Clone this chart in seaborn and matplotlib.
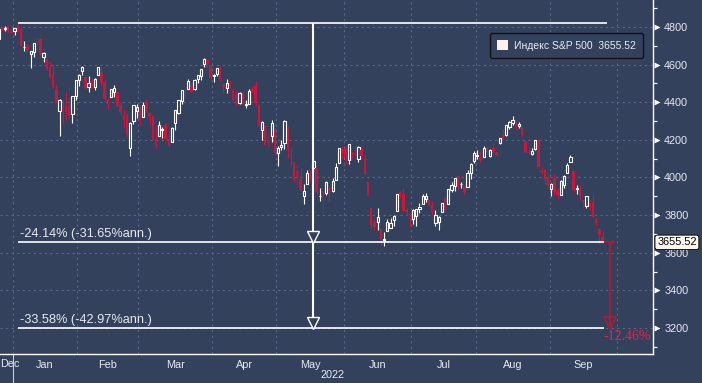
import numpy as np
import matplotlib
matplotlib.use('Agg')
import matplotlib.pyplot as plt
import matplotlib.transforms as mtransforms
from matplotlib.patches import Patch
import seaborn as sns

# months shown on the axis and trading sessions in each (Dec = last week only)
months = ['Dec', 'Jan', 'Feb', 'Mar', 'Apr', 'May', 'Jun', 'Jul', 'Aug', 'Sep']
month_sessions = [5, 20, 19, 23, 20, 21, 21, 20, 23, 21]

# daily OHLC, S&P 500, 27 Dec 2021 .. 26 Sep 2022
opens = [
    4734, 4795, 4789, 4794, 4775,
    4778, 4805, 4788, 4693, 4698, 4655, 4669, 4729, 4734, 4638, 4632, 4588, 4547, 4471, 4356, 4367, 4381, 4381, 4336, 4432,
    4520, 4566, 4535, 4483, 4506, 4480, 4547, 4553, 4506, 4413, 4429, 4456, 4456, 4385, 4333, 4325, 4156, 4298, 4354,
    4363, 4323, 4401, 4342, 4327, 4203, 4223, 4253, 4280, 4203, 4189, 4288, 4345, 4407, 4462, 4469, 4493, 4470, 4523, 4541, 4603, 4624, 4599,
    4540, 4548, 4572, 4494, 4475, 4494, 4463, 4438, 4394, 4449, 4386, 4391, 4472, 4489, 4386, 4255, 4278, 4187, 4223, 4254,
    4131, 4160, 4181, 4270, 4128, 4081, 4035, 3990, 3904, 3964, 4013, 4052, 4052, 3899, 3928, 3919, 3943, 3930, 3985, 4077, 4151,
    4150, 4095, 4138, 4135, 4096, 4147, 4102, 3974, 3838, 3764, 3764, 3728, 3666, 3715, 3734, 3775, 3822, 3921, 3913, 3825, 3786,
    3781, 3793, 3832, 3859, 3888, 3881, 3852, 3757, 3764, 3818, 3884, 3861, 3935, 3955, 4007, 3966, 3953, 3951, 4026, 4087,
    4112, 4104, 4108, 4155, 4116, 4156, 4133, 4181, 4227, 4225, 4269, 4290, 4280, 4273, 4266, 4195, 4133, 4127, 4153, 4199, 4035, 4041, 4001,
    3937, 3995, 3931, 3909, 3960, 4023, 4084, 4037, 3941, 3932, 3881, 3850, 3875, 3871, 3782, 3727, 3683,
]
highs = [
    4791, 4807, 4804, 4809, 4787,
    4797, 4819, 4798, 4725, 4708, 4673, 4714, 4749, 4744, 4665, 4632, 4612, 4602, 4495, 4417, 4411, 4453, 4429, 4433, 4517,
    4550, 4595, 4543, 4540, 4522, 4531, 4590, 4589, 4526, 4426, 4473, 4490, 4456, 4395, 4362, 4342, 4295, 4385, 4389,
    4378, 4401, 4417, 4342, 4327, 4277, 4299, 4268, 4291, 4248, 4271, 4359, 4413, 4465, 4482, 4522, 4501, 4521, 4546, 4576, 4637, 4628, 4603,
    4549, 4584, 4593, 4504, 4521, 4520, 4464, 4471, 4454, 4460, 4410, 4471, 4488, 4513, 4386, 4299, 4278, 4241, 4308, 4270,
    4170, 4200, 4308, 4270, 4158, 4081, 4069, 4049, 3965, 4039, 4046, 4091, 4052, 3946, 3943, 3982, 3956, 3999, 4075, 4158, 4168,
    4167, 4178, 4143, 4169, 4165, 4160, 4119, 3974, 3838, 3778, 3838, 3728, 3708, 3780, 3786, 3803, 3914, 3928, 3946, 3837, 3819,
    3830, 3832, 3865, 3911, 3919, 3881, 3873, 3829, 3796, 3864, 3902, 3940, 3974, 3999, 4012, 3975, 3953, 4040, 4079, 4140,
    4145, 4140, 4168, 4161, 4152, 4187, 4137, 4211, 4258, 4280, 4302, 4325, 4302, 4293, 4266, 4195, 4160, 4157, 4201, 4203, 4063, 4045, 4015,
    3970, 4018, 3943, 3988, 4011, 4077, 4119, 4037, 3962, 3959, 3881, 3900, 3876, 3907, 3791, 3727, 3716,
]
lows = [
    4734, 4780, 4778, 4775, 4766,
    4758, 4774, 4699, 4671, 4663, 4582, 4638, 4707, 4650, 4615, 4569, 4530, 4478, 4395, 4223, 4287, 4305, 4310, 4292, 4414,
    4484, 4544, 4470, 4452, 4471, 4465, 4547, 4484, 4401, 4365, 4429, 4430, 4374, 4327, 4267, 4222, 4115, 4287, 4315,
    4280, 4323, 4346, 4285, 4200, 4158, 4223, 4210, 4200, 4162, 4188, 4252, 4336, 4391, 4424, 4469, 4456, 4465, 4501, 4518, 4590, 4581, 4530,
    4508, 4539, 4514, 4450, 4450, 4475, 4408, 4381, 4393, 4391, 4370, 4391, 4449, 4384, 4268, 4201, 4175, 4163, 4189, 4124,
    4063, 4147, 4149, 4106, 4068, 3975, 3958, 3929, 3859, 3964, 3984, 4034, 3912, 3877, 3810, 3909, 3875, 3925, 3985, 4077, 4105,
    4074, 4074, 4099, 4109, 4080, 4107, 4017, 3900, 3734, 3722, 3722, 3640, 3637, 3715, 3729, 3744, 3822, 3890, 3820, 3799, 3739,
    3752, 3742, 3813, 3859, 3869, 3847, 3802, 3741, 3722, 3817, 3819, 3861, 3922, 3928, 3939, 3943, 3911, 3951, 3993, 4079,
    4096, 4080, 4108, 4135, 4107, 4129, 4112, 4177, 4201, 4220, 4257, 4278, 4253, 4262, 4219, 4130, 4124, 4120, 4148, 4058, 4017, 3965, 3955,
    3904, 3906, 3887, 3906, 3945, 4023, 4084, 3922, 3912, 3888, 3837, 3839, 3828, 3789, 3749, 3647, 3645,
]
closes = [
    4791, 4786, 4793, 4779, 4766,
    4797, 4794, 4701, 4696, 4677, 4670, 4713, 4726, 4659, 4663, 4577, 4533, 4483, 4398, 4410, 4356, 4350, 4327, 4432, 4516,
    4547, 4589, 4477, 4501, 4484, 4522, 4587, 4504, 4419, 4402, 4471, 4475, 4380, 4349, 4305, 4226, 4289, 4385, 4374,
    4306, 4387, 4363, 4329, 4201, 4171, 4278, 4260, 4204, 4173, 4262, 4358, 4412, 4463, 4461, 4512, 4456, 4520, 4543, 4576, 4632, 4602, 4530,
    4546, 4583, 4525, 4481, 4500, 4488, 4413, 4397, 4447, 4393, 4392, 4462, 4459, 4394, 4272, 4296, 4175, 4184, 4288, 4132,
    4155, 4175, 4300, 4147, 4123, 3991, 4001, 3935, 3930, 4024, 4008, 4089, 3924, 3901, 3901, 3974, 3941, 3979, 4058, 4158, 4132,
    4101, 4177, 4109, 4121, 4161, 4116, 4018, 3901, 3750, 3735, 3790, 3667, 3675, 3765, 3760, 3796, 3912, 3900, 3822, 3819, 3785,
    3825, 3831, 3845, 3903, 3899, 3854, 3819, 3802, 3790, 3863, 3831, 3937, 3960, 3999, 3962, 3967, 3921, 4024, 4072, 4130,
    4119, 4091, 4155, 4152, 4145, 4140, 4122, 4210, 4207, 4280, 4297, 4305, 4274, 4284, 4228, 4138, 4129, 4141, 4199, 4058, 4031, 3986, 3955,
    3967, 3924, 3908, 3980, 4006, 4067, 4110, 3933, 3946, 3901, 3873, 3900, 3856, 3790, 3758, 3693, 3655.52,
]

price_ticks = [3200, 3400, 3600, 3800, 4000, 4200, 4400, 4600, 4800]
minor_ticks = [3100, 3300, 3500, 3700, 3900, 4100, 4300, 4500, 4700, 4900]

# drawdown study
last_price = 3655.52
peak_price = 4818.62
target_price = 3200.0
peak_day = 6
arrow_day = 98
dd_now_label = '-24.14% (-31.65%ann.)'
dd_target_label = '-33.58% (-42.97%ann.)'
remaining_label = '-12.46%'
legend_label = 'Индекс S&P 500  3655.52'
year_label = '2022'

bg = '#34415c'
grid_c = '#56678a'
red = '#c8163c'
red_dim = '#8a2a4a'
red_line = '#b41a36'
red_text = '#ee1f3f'
txt = '#e6eaf2'

sns.set_theme(style='dark', rc={'axes.facecolor': bg, 'figure.facecolor': bg})
plt.rcParams['font.family'] = ['Liberation Sans', 'DejaVu Sans']

fig = plt.figure(figsize=(7.02, 3.83), dpi=100)
ax = fig.add_axes([0, 29 / 383, 653 / 702, 354 / 383])
ax.set_facecolor(bg)

o = np.array(opens, float)
h = np.array(highs, float)
l = np.array(lows, float)
c = np.array(closes, float)
x = np.arange(len(c))
up = c >= o
prev = np.r_[c[0], c[:-1]]
down_col = np.where(c < prev, red, red_dim)

# candles: hollow white for up days, filled red for down days
ax.vlines(x[up], l[up], h[up], color='white', lw=0.8, zorder=2)
ax.vlines(x[~up], l[~up], h[~up], color=down_col[~up], lw=0.8, zorder=2)
ax.bar(x[up], c[up] - o[up], bottom=o[up], width=0.7, color=bg,
       edgecolor='white', linewidth=0.8, zorder=3)
ax.bar(x[~up], o[~up] - c[~up], bottom=c[~up], width=0.75,
       color=down_col[~up], linewidth=0, zorder=3)

ax.set_xlim(0.45, 203.7)
ax.set_ylim(3061.8, 4943.5)

# month axis
bounds = np.cumsum(month_sessions) - 0.5
mids = (bounds[:-1] + bounds[1:]) / 2
ax.set_xticks(mids, months[1:])
ax.set_xticks(bounds, minor=True)
ax.tick_params(axis='x', which='major', length=0, pad=4, colors=txt, labelsize=7.8)
ax.tick_params(axis='x', which='minor', length=3, direction='out', color='white', width=0.8)
xt = mtransforms.blended_transform_factory(ax.transData, ax.transAxes)
ax.text(0.5, -0.015, months[0], transform=xt, ha='left', va='top', fontsize=7.8, color=txt)
ax.plot([bounds[0], bounds[0]], [0, -29 / 354], transform=xt, color='#c8ccd6',
        lw=0.8, clip_on=False)
ax.text(104, -0.059, year_label, transform=xt, ha='center', va='center',
        fontsize=7.8, color=txt)

# price axis on the right
ax.yaxis.tick_right()
ax.set_yticks(price_ticks)
ax.set_yticks(minor_ticks, minor=True)
ax.tick_params(axis='y', which='major', length=0, pad=8, colors=txt, labelsize=7.8)
ax.tick_params(axis='y', which='minor', length=3, direction='out', color='white', width=0.8)
yt = mtransforms.blended_transform_factory(ax.transAxes, ax.transData)
ax.plot(np.full(len(price_ticks), 1 + 3.5 / 653), price_ticks, ls='none', marker='>',
        ms=5, color='white', mec='none', transform=yt, clip_on=False)

for s in ['top', 'left']:
    ax.spines[s].set_visible(False)
for s in ['right', 'bottom']:
    ax.spines[s].set_visible(True)
    ax.spines[s].set_color('white')
    ax.spines[s].set_linewidth(1)

ax.grid(axis='y', which='major', color=grid_c, ls=(0, (2, 3)), lw=0.8)
ax.grid(axis='x', which='minor', color=grid_c, ls=(0, (2, 3)), lw=0.8)
ax.set_axisbelow(True)

# drawdown lines
ax.hlines(peak_price, peak_day, 189.5, color='white', lw=1.2, zorder=4)
ax.hlines([last_price, target_price], peak_day, 188.5, color='white', lw=1.2, zorder=4)
ax.vlines(arrow_day, target_price, peak_price, color='white', lw=1.5, zorder=4)
ax.plot([arrow_day, arrow_day], [last_price + 28, target_price + 28], ls='none',
        marker='v', ms=9, mfc=bg, mec='white', mew=1, zorder=5)
ax.annotate(dd_now_label, (peak_day + 0.6, last_price), xytext=(0, 1.5),
            textcoords='offset points', ha='left', va='bottom', fontsize=9.2, color=txt)
ax.annotate(dd_target_label, (peak_day + 0.6, target_price), xytext=(0, 1.5),
            textcoords='offset points', ha='left', va='bottom', fontsize=9.2, color=txt)

ax.hlines(last_price, 188.6, 191.8, color=red_line, lw=1.3, zorder=4)
ax.vlines(190.2, target_price + 10, last_price, color=red_line, lw=1.3, zorder=4)
ax.plot([190.2], [target_price + 28], ls='none', marker='v', ms=9, mfc='none',
        mec=red_line, mew=1.1, zorder=5)
ax.annotate(remaining_label, (188.4, target_price), xytext=(0, -1.5),
            textcoords='offset points', ha='left', va='top', fontsize=10,
            color=red_text, family=['Liberation Serif', 'DejaVu Serif'], zorder=6)

# last price tag
ax.annotate(f'{last_price:.2f}', (1, last_price), xycoords=yt, xytext=(3, 0),
            textcoords='offset points', ha='left', va='center', fontsize=7.8,
            color='black', annotation_clip=False,
            bbox=dict(boxstyle='round,pad=0.2', fc='#fdf6ee', ec='black', lw=0.6))

leg = ax.legend(handles=[Patch(facecolor='#fff0f0', edgecolor='none', label=legend_label)],
                loc='upper right', bbox_to_anchor=(643 / 653, 1 - 33 / 354),
                borderaxespad=0, frameon=True, facecolor=bg, edgecolor='#111111',
                framealpha=1, fontsize=7.5, labelcolor=txt, handlelength=1.0,
                handleheight=1.0, borderpad=0.7, handletextpad=0.6, fancybox=True)
leg.get_frame().set_linewidth(1)

fig.savefig('out.png', dpi=100, facecolor=bg)
